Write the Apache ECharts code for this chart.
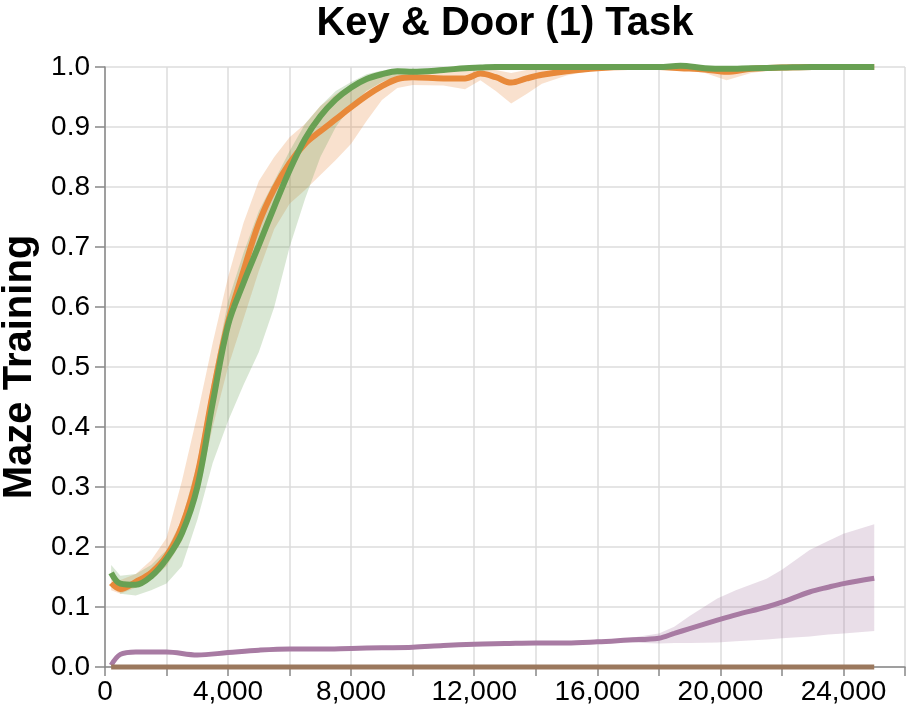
<!DOCTYPE html>
<html>
<head>
<meta charset="utf-8">
<title>Key &amp; Door (1) Task</title>
<script src="https://cdn.jsdelivr.net/npm/echarts@6/dist/echarts.min.js"></script>
<style>
  html, body { margin: 0; padding: 0; background: #fff; }
  #chart { width: 916px; height: 714px; }
</style>
</head>
<body>
<div id="chart"></div>
<script>
// 训练步数 (orange / green runs share these)
const steps = [200, 500, 1000, 1500, 2000, 2500, 3000, 3500, 4000, 4500, 5000, 5500, 6000, 6500, 7000, 7500, 8000, 8500, 9000, 9500,
  10000, 11000, 11700, 12200, 12700, 13200, 13700, 14200, 15000, 16000, 17000, 18000, 18700, 19500, 20200, 21000, 22000, 23000, 24000, 25000];

const orangeMean = [0.140, 0.130, 0.142, 0.157, 0.185, 0.235, 0.320, 0.455, 0.575, 0.660, 0.740, 0.797, 0.840, 0.872, 0.893, 0.913, 0.933, 0.952, 0.968, 0.980,
  0.983, 0.981, 0.981, 0.989, 0.983, 0.974, 0.981, 0.987, 0.993, 0.998, 1.000, 1.000, 0.998, 0.996, 0.992, 0.997, 0.999, 1.000, 1.000, 1.000];
const orangeLow = [0.128, 0.122, 0.132, 0.145, 0.168, 0.210, 0.285, 0.400, 0.500, 0.580, 0.660, 0.730, 0.772, 0.795, 0.820, 0.845, 0.872, 0.910, 0.945, 0.965,
  0.970, 0.969, 0.963, 0.978, 0.960, 0.939, 0.955, 0.972, 0.986, 0.996, 0.999, 0.999, 0.995, 0.990, 0.978, 0.990, 0.997, 0.999, 0.999, 0.999];
const orangeHigh = [0.152, 0.145, 0.155, 0.178, 0.215, 0.310, 0.420, 0.540, 0.650, 0.740, 0.810, 0.850, 0.883, 0.905, 0.935, 0.955, 0.970, 0.982, 0.988, 0.993,
  0.995, 0.993, 0.994, 0.997, 0.995, 0.990, 0.995, 0.998, 1.000, 1.000, 1.000, 1.000, 1.000, 1.000, 0.998, 1.000, 1.000, 1.000, 1.000, 1.000];

const greenMean = [0.157, 0.139, 0.137, 0.151, 0.180, 0.223, 0.300, 0.440, 0.570, 0.640, 0.703, 0.767, 0.828, 0.880, 0.918, 0.946, 0.966, 0.980, 0.988, 0.993,
  0.992, 0.995, 0.998, 0.999, 1.000, 1.000, 1.000, 1.000, 1.000, 1.000, 1.000, 1.000, 1.002, 0.998, 0.997, 0.998, 0.999, 1.000, 1.000, 1.000];
const greenLow = [0.148, 0.122, 0.119, 0.128, 0.139, 0.168, 0.245, 0.340, 0.410, 0.470, 0.525, 0.600, 0.700, 0.780, 0.850, 0.900, 0.935, 0.960, 0.975, 0.985,
  0.987, 0.992, 0.996, 0.998, 0.998, 0.998, 0.998, 0.998, 0.998, 0.998, 0.998, 0.998, 0.998, 0.995, 0.994, 0.996, 0.998, 0.998, 0.998, 0.998];
const greenHigh = [0.170, 0.152, 0.155, 0.170, 0.195, 0.245, 0.340, 0.480, 0.610, 0.690, 0.760, 0.810, 0.860, 0.905, 0.935, 0.960, 0.975, 0.988, 0.994, 0.998,
  0.997, 0.999, 1.000, 1.000, 1.001, 1.001, 1.001, 1.001, 1.001, 1.001, 1.001, 1.001, 1.004, 1.001, 1.000, 1.000, 1.001, 1.001, 1.001, 1.001];

const purpleSteps = [200, 500, 1000, 2000, 3000, 4000, 5000, 6000, 7000, 8000, 9000, 10000, 11000, 12000, 13000, 14000, 15000, 16000,
  17000, 18000, 18500, 19000, 19900, 20500, 21500, 22000, 22900, 23500, 24000, 25000];
const purpleMean = [0.003, 0.021, 0.025, 0.025, 0.020, 0.024, 0.028, 0.030, 0.030, 0.031, 0.032, 0.033, 0.036, 0.038, 0.039, 0.040, 0.040, 0.042,
  0.045, 0.048, 0.056, 0.064, 0.078, 0.087, 0.100, 0.108, 0.125, 0.133, 0.139, 0.148];
const purpleLow = [0.001, 0.018, 0.022, 0.022, 0.017, 0.021, 0.025, 0.027, 0.027, 0.028, 0.029, 0.030, 0.033, 0.035, 0.036, 0.037, 0.037, 0.039,
  0.041, 0.039, 0.040, 0.040, 0.041, 0.043, 0.046, 0.048, 0.051, 0.054, 0.056, 0.060];
const purpleHigh = [0.005, 0.024, 0.028, 0.028, 0.023, 0.027, 0.031, 0.033, 0.033, 0.034, 0.035, 0.036, 0.039, 0.041, 0.042, 0.043, 0.043, 0.045,
  0.048, 0.056, 0.067, 0.085, 0.114, 0.128, 0.147, 0.162, 0.195, 0.210, 0.222, 0.238];

const brownSteps = [200, 25000];
const brownMean = [0, 0];

const ORANGE = '#e8893a';
const GREEN = '#68a053';
const PURPLE = '#a87ba3';
const BROWN = '#9b785e';

function pairs(xs, ys) {
  return xs.map((x, i) => [x, ys[i]]);
}

// 置信带: one polygon, upper edge then lower edge back
function band(xs, lo, hi, color) {
  return {
    type: 'custom',
    silent: true,
    data: xs.map((x, i) => [x, lo[i], hi[i]]),
    encode: { x: 0, y: [1, 2] },
    renderItem: function (params, api) {
      if (params.dataIndex !== 0) return null;
      const top = xs.map((x, i) => api.coord([x, hi[i]]));
      const bottom = xs.map((x, i) => api.coord([x, lo[i]])).reverse();
      return {
        type: 'polygon',
        shape: { points: top.concat(bottom) },
        style: { fill: color, opacity: 0.25 }
      };
    }
  };
}

function meanLine(xs, ys, color, width) {
  return {
    type: 'line', symbol: 'none', smooth: 0.35, clip: false,
    lineStyle: { color: color, width: width },
    data: pairs(xs, ys)
  };
}

const chart = echarts.init(document.getElementById('chart'));

const option = {
  animation: false,
  textStyle: { fontFamily: '"Liberation Sans", Arial, Helvetica, sans-serif' },
  title: {
    text: 'Key & Door (1) Task',
    left: 505,
    top: 4,
    padding: 0,
    textAlign: 'center',
    textStyle: { fontSize: 40, fontWeight: 'bold', color: '#000' }
  },
  grid: { left: 105, right: 11, top: 67, bottom: 47, containLabel: false, outerBoundsMode: 'none' },
  xAxis: {
    type: 'value',
    min: 0, max: 26000, interval: 2000,
    axisLine: { show: true, lineStyle: { color: '#888', width: 1.5 } },
    axisTick: { show: true, length: 9, lineStyle: { color: '#888', width: 1.5 } },
    axisLabel: {
      fontSize: 28, color: '#000', margin: 11,
      formatter: v => (v % 4000 === 0 ? v.toLocaleString('en-US') : '')
    },
    splitLine: { show: true, lineStyle: { color: '#ddd', width: 1.5 } }
  },
  yAxis: {
    type: 'value',
    min: 0, max: 1, interval: 0.1,
    name: 'Maze Training',
    nameLocation: 'middle',
    nameGap: 63,
    nameTextStyle: { fontSize: 40, fontWeight: 'bold', color: '#000' },
    axisLine: { show: true, lineStyle: { color: '#888', width: 1.5 } },
    axisTick: { show: true, length: 10, lineStyle: { color: '#888', width: 1.5 } },
    axisLabel: {
      fontSize: 28, color: '#000', margin: 15,
      formatter: v => v.toFixed(1)
    },
    splitLine: { show: true, lineStyle: { color: '#ddd', width: 1.5 } }
  },
  series: [
    band(purpleSteps, purpleLow, purpleHigh, PURPLE),
    band(steps, orangeLow, orangeHigh, ORANGE),
    band(steps, greenLow, greenHigh, GREEN),
    meanLine(purpleSteps, purpleMean, PURPLE, 5),
    meanLine(brownSteps, brownMean, BROWN, 5),
    meanLine(steps, orangeMean, ORANGE, 6),
    meanLine(steps, greenMean, GREEN, 6)
  ]
};

chart.setOption(option);
</script>
</body>
</html>
